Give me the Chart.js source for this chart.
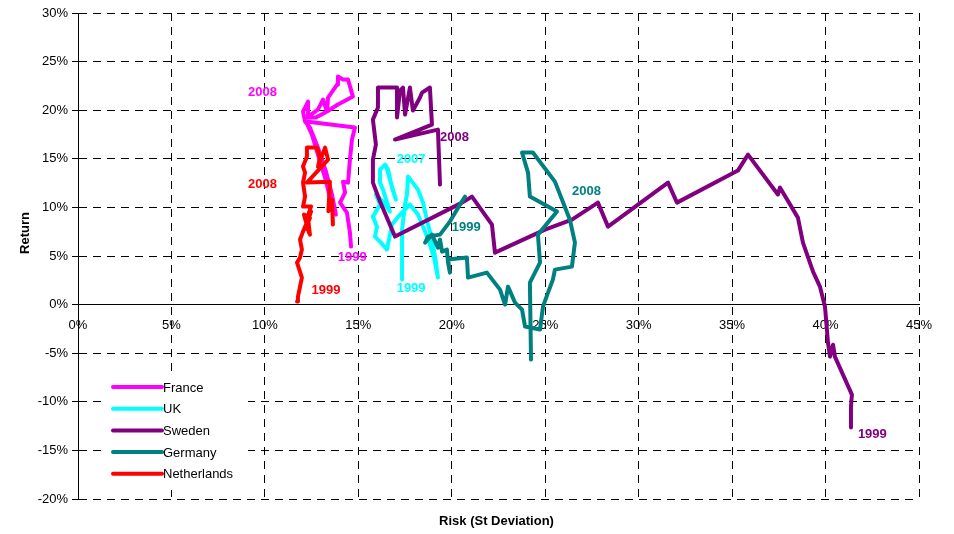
<!DOCTYPE html>
<html><head><meta charset="utf-8">
<script src="https://cdn.jsdelivr.net/npm/chart.js@4.4.1/dist/chart.umd.min.js"></script>
<style>html,body{margin:0;padding:0;background:#fff}#wrap{width:954px;height:534px}</style>
</head><body><div id="wrap"><canvas id="c" width="954" height="534"></canvas></div>
<script>
const countries = ['France', 'UK', 'Sweden', 'Germany', 'Netherlands'];
const colors = ['#FF00FF', '#00FFFF', '#800080', '#008080', '#FF0000'];

const franceRisk   = [14.61,14.55,14.39,14.02,14.29,14.18,14.45,14.55,14.66,14.82,12.20,12.52,12.84,13.22,13.48,13.80,13.59,13.27,12.84,12.41,12.15,12.04,12.31,12.31,12.84,13.11,13.32,13.38,13.86,13.91,14.18,14.45,14.71,13.91,13.32,12.73,12.15];
const franceReturn = [5.97,7.41,9.47,10.49,11.52,12.65,12.55,14.92,16.98,18.21,18.83,17.49,15.43,13.07,11.01,9.26,11.32,13.68,16.15,18.21,18.83,19.86,20.88,19.34,20.06,21.09,19.86,21.30,22.63,23.46,23.15,23.15,21.40,20.58,19.86,19.24,19.24];

const ukRisk   = [17.34,17.34,17.50,17.60,17.66,17.87,18.19,18.46,18.73,18.94,19.15,19.26,19.05,18.83,18.57,18.19,17.76,17.23,16.80,16.53,16.16,15.89,16.00,15.78,16.16,15.94,16.37,16.69,16.32,16.16,16.16,16.43,16.59,16.80,17.01,16.69,16.48];
const ukReturn = [2.57,7.72,10.29,11.32,13.17,12.65,11.83,10.49,8.23,6.69,4.42,2.78,4.84,6.17,7.51,9.26,10.29,9.26,8.23,5.66,6.48,7.00,8.02,9.05,10.29,11.32,10.49,9.57,11.83,12.55,13.89,14.40,13.89,12.04,10.80,12.86,14.30];

const swedenRisk   = [41.36,41.36,41.41,40.50,40.40,40.24,40.13,39.97,39.70,39.33,38.79,38.52,37.56,37.45,35.85,35.31,32.05,31.57,28.36,27.82,26.43,24.99,22.31,22.15,21.08,20.55,16.96,16.16,15.78,15.78,15.94,15.78,16.05,16.05,17.07,17.07,17.23,17.39,17.50,17.76,17.92,18.30,18.41,18.83,18.94,16.96,19.26,19.37];
const swedenReturn = [-12.65,-10.49,-9.26,-5.35,-4.12,-5.35,-3.91,-0.21,1.85,3.40,6.38,8.95,12.04,11.32,15.43,13.79,10.49,12.55,8.02,10.49,8.74,7.72,5.35,8.23,11.11,10.49,7.00,10.60,12.55,14.92,16.46,19.03,20.27,22.33,22.33,19.24,22.02,22.33,19.55,22.33,19.96,21.30,21.81,22.33,18.52,16.98,18.00,12.35];

const germanyRisk   = [20.71,20.44,19.90,19.37,18.73,18.57,18.94,19.26,19.37,19.48,19.74,19.80,19.90,19.80,20.81,20.87,21.88,22.58,22.85,23.01,23.38,23.76,23.92,24.72,24.88,25.15,25.41,25.52,26.43,26.59,26.32,25.52,24.34,23.76,24.08,24.18,25.63,24.61,24.72,24.18,24.24];
const germanyReturn = [11.11,10.29,8.54,7.20,7.00,6.38,7.20,5.86,6.69,5.45,5.66,4.32,3.29,4.63,4.84,2.78,3.29,1.54,0.00,1.85,0.21,-0.51,-2.26,-2.57,-0.21,1.23,2.57,3.60,3.91,6.38,8.74,12.65,15.64,15.64,13.58,11.11,9.57,7.20,4.32,2.26,-5.66];

const netherlandsRisk   = [11.72,11.77,11.88,11.98,11.72,11.88,11.98,11.88,12.04,12.20,12.41,12.30,12.47,12.15,12.41,12.09,12.36,12.20,12.47,12.04,12.15,12.04,12.15,12.04,12.25,12.25,12.79,12.95,12.84,13.22,13.38,12.25,13.48,13.40,13.59,13.64];
const netherlandsReturn = [0.31,0.82,1.85,2.78,4.32,4.84,5.66,6.69,7.51,8.23,7.20,9.00,9.57,7.80,8.90,9.26,7.40,8.54,10.10,10.08,11.11,12.55,13.58,14.20,15.23,16.15,16.15,15.12,14.20,16.15,14.92,12.55,12.65,9.60,10.80,8.23];

const xTicks = [0, 5, 10, 15, 20, 25, 30, 35, 40, 45];
const yTicks = [-20, -15, -10, -5, 0, 5, 10, 15, 20, 25, 30];

const yearText   = ['2008', '1999', '2007', '1999', '2008', '1999', '1999', '2008', '2008', '1999'];
const yearRisk   = [9.1, 13.9, 17.05, 17.05, 19.37, 41.73, 20.0, 26.43, 9.1, 12.5];
const yearReturn = [21.8, 4.9, 14.9, 1.65, 17.2, -13.4, 7.9, 11.6, 12.35, 1.5];
const yearSeries = [0, 0, 1, 1, 2, 2, 3, 3, 4, 4];

const allRisk = [franceRisk, ukRisk, swedenRisk, germanyRisk, netherlandsRisk];
const allReturn = [franceReturn, ukReturn, swedenReturn, germanyReturn, netherlandsReturn];

const FONT = "'Liberation Sans', Arial, sans-serif";

const datasets = countries.map((name, i) => ({
  label: name,
  data: allRisk[i].map((r, k) => ({ x: r, y: allReturn[i][k] })),
  showLine: true,
  borderColor: colors[i],
  backgroundColor: colors[i],
  borderWidth: 4,
  pointRadius: 0,
  tension: 0,
  borderJoinStyle: 'round',
  borderCapStyle: 'round',
  order: 5 - i
}));

const extras = {
  id: 'extras',
  afterDatasetsDraw(chart) {
    const ctx = chart.ctx;
    const xs = chart.scales.x, ys = chart.scales.y;
    const ca = chart.chartArea;
    ctx.save();
    ctx.font = 'bold 13px ' + FONT;
    ctx.textAlign = 'left';
    ctx.textBaseline = 'middle';
    yearText.forEach((t, i) => {
      ctx.fillStyle = colors[yearSeries[i]];
      ctx.fillText(t, xs.getPixelForValue(yearRisk[i]), ys.getPixelForValue(yearReturn[i]));
    });
    const lx = ca.left + 25, ly = ca.top + 362;
    ctx.fillStyle = '#fff';
    ctx.fillRect(lx, ly, 145, 115);
    countries.forEach((name, i) => {
      const y = ly + 12 + i * 21.7;
      ctx.strokeStyle = colors[i];
      ctx.lineWidth = 4;
      ctx.lineCap = 'round';
      ctx.beginPath();
      ctx.moveTo(lx + 10, y);
      ctx.lineTo(lx + 59, y);
      ctx.stroke();
      ctx.fillStyle = '#000';
      ctx.font = '13px ' + FONT;
      ctx.textAlign = 'left';
      ctx.textBaseline = 'middle';
      ctx.fillText(name, lx + 60, y + 1);
    });
    ctx.fillStyle = '#000';
    ctx.font = 'bold 13px ' + FONT;
    ctx.textAlign = 'center';
    ctx.textBaseline = 'middle';
    ctx.fillText('Risk (St Deviation)', (ca.left + ca.right) / 2 - 2, ca.bottom + 22);
    ctx.translate(25, ca.top + 220);
    ctx.rotate(-Math.PI / 2);
    ctx.fillText('Return', 0, 0);
    ctx.restore();
  }
};

new Chart(document.getElementById('c'), {
  type: 'scatter',
  data: { datasets },
  options: {
    responsive: false,
    animation: false,
    devicePixelRatio: 1,
    layout: { padding: { left: 0, top: 13, right: 35, bottom: 35 } },
    plugins: { legend: { display: false }, tooltip: { enabled: false } },
    scales: {
      x: {
        type: 'linear',
        min: 0, max: 45,
        position: { y: 0 },
        afterBuildTicks: (s) => { s.ticks = xTicks.map(v => ({ value: v })); },
        ticks: { callback: v => v + '%', color: '#000', font: { family: FONT, size: 13 }, padding: 13, maxRotation: 0, autoSkip: false },
        grid: { color: '#000', lineWidth: 1, drawTicks: false },
        border: { display: true, color: '#000', width: 1, dash: [8, 6] }
      },
      y: {
        type: 'linear',
        min: -20, max: 30,
        position: 'left',
        afterBuildTicks: (s) => { s.ticks = yTicks.map(v => ({ value: v })); },
        afterFit: (s) => { s.width = 78; },
        ticks: { callback: v => v + '%', color: '#000', font: { family: FONT, size: 13 }, padding: 4, autoSkip: false },
        grid: { color: '#000', lineWidth: 1, drawTicks: true, tickLength: 6, tickColor: '#000' },
        border: { display: true, color: '#000', width: 1, dash: [8, 6] }
      }
    }
  },
  plugins: [extras]
});
</script>
</body></html>
